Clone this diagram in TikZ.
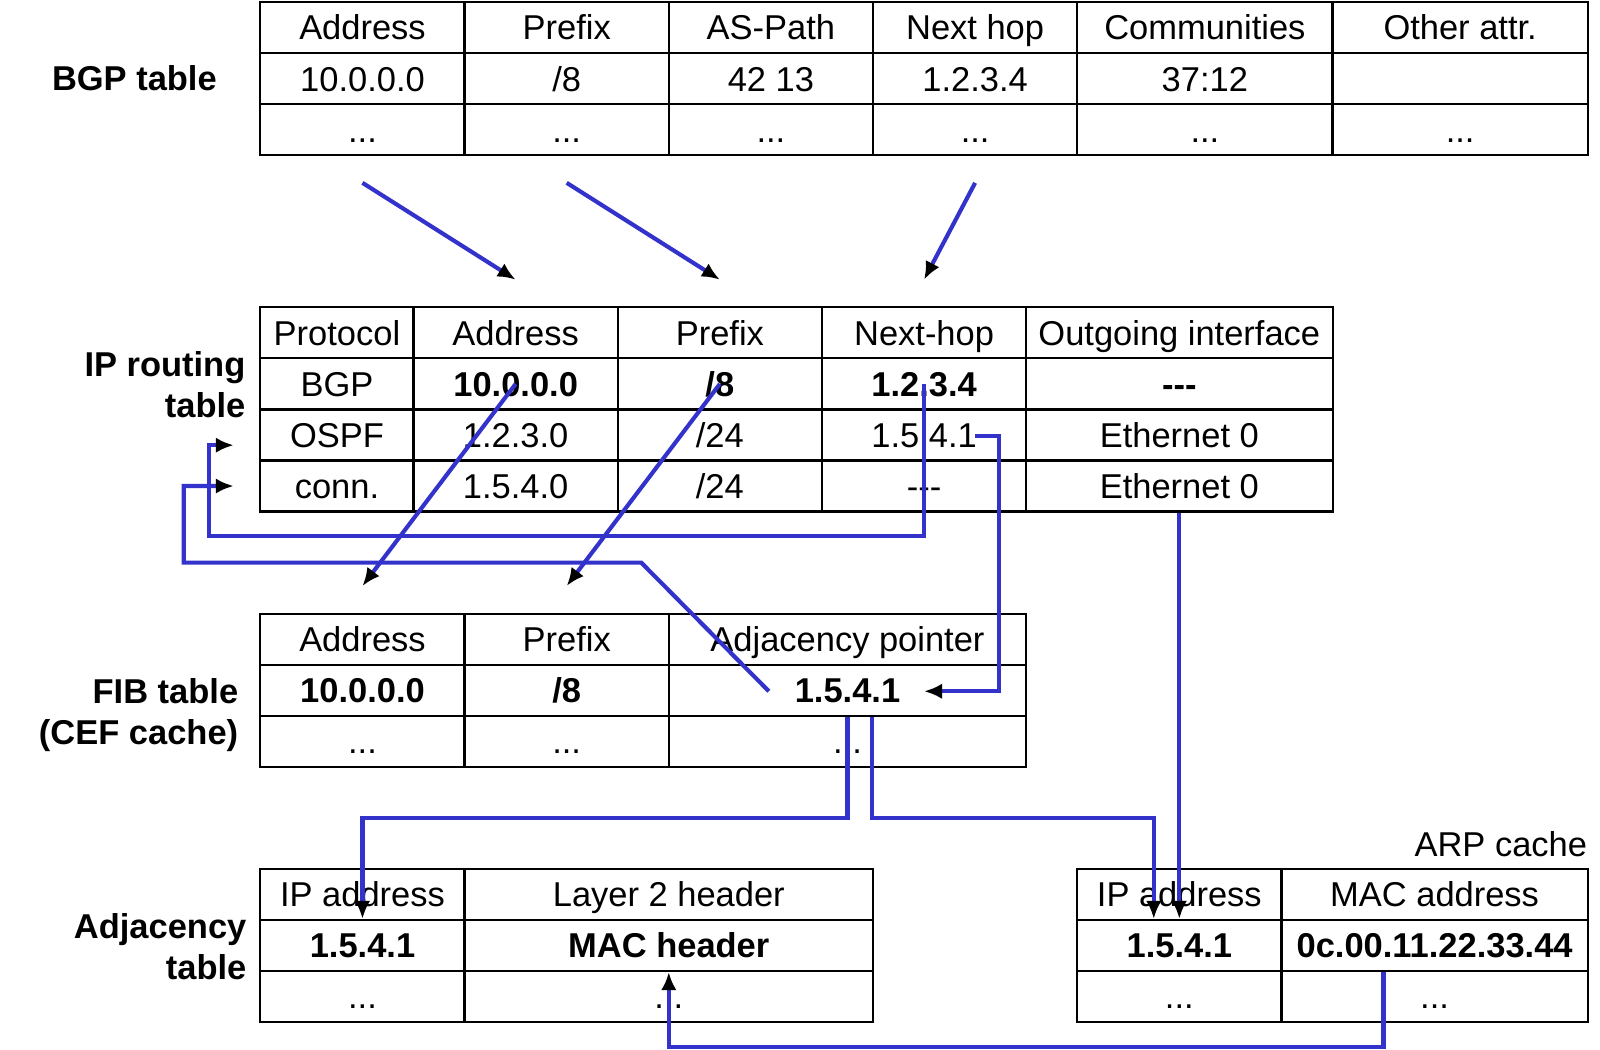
\documentclass[tikz,border=0pt]{standalone}
\usepackage{fontspec}
\setmainfont{Liberation Sans}
\usetikzlibrary{arrows.meta}

\definecolor{linkblue}{RGB}{51,51,204}
\newcommand{\tabfont}{\fontsize{9.6}{11.4}\selectfont}

\begin{document}
\begin{tikzpicture}[x=0.01cm, y=-0.01cm, font=\tabfont,
    cell/.style={draw, line width=0.6pt, minimum width=#1, minimum height=0.5cm, inner sep=0pt, text height=6.9pt, text depth=0pt},
    tlabel/.style={font=\tabfont\bfseries, align=right, inner sep=0pt},
    link/.style={draw=linkblue, line width=1.15pt, -{Latex[color=black, length=5pt, width=4.3pt]}}]
    \useasboundingbox (0,0) rectangle (1567,1028);

    % BGP table
    \node[tlabel, anchor=east] (bgp-lbl) at (213,77) {BGP table};
    \node[cell=2cm] (b-addr0) at (355,27) {Address};
    \node[cell=2cm] (b-pref0) at (555,27) {Prefix};
    \node[cell=2cm] (b-path0) at (755,27) {AS-Path};
    \node[cell=2cm] (b-nh0) at (955,27) {Next hop};
    \node[cell=2.5cm] (b-comm0) at (1180,27) {Communities};
    \node[cell=2.5cm] (b-oth0) at (1430,27) {Other attr.};
    \node[cell=2cm] (b-addr1) at (355,77) {10.0.0.0};
    \node[cell=2cm] (b-pref1) at (555,77) {/8};
    \node[cell=2cm] (b-path1) at (755,77) {42 13};
    \node[cell=2cm] (b-nh1) at (955,77) {1.2.3.4};
    \node[cell=2.5cm] (b-comm1) at (1180,77) {37:12};
    \node[cell=2.5cm] (b-oth1) at (1430,77) {};
    \node[cell=2cm] (b-addr2) at (355,127) {...};
    \node[cell=2cm] (b-pref2) at (555,127) {...};
    \node[cell=2cm] (b-path2) at (755,127) {...};
    \node[cell=2cm] (b-nh2) at (955,127) {...};
    \node[cell=2.5cm] (b-comm2) at (1180,127) {...};
    \node[cell=2.5cm] (b-oth2) at (1430,127) {...};

    % IP routing table
    \node[tlabel, anchor=east] (ip-lbl) at (241,377) {IP routing\\table};
    \node[cell=1.5cm] (r-prot0) at (330,326) {Protocol};
    \node[cell=2cm] (r-addr0) at (505,326) {Address};
    \node[cell=2cm] (r-pref0) at (705,326) {Prefix};
    \node[cell=2cm] (r-nh0) at (905,326) {Next-hop};
    \node[cell=3cm] (r-out0) at (1155,326) {Outgoing interface};
    \node[cell=1.5cm] (r-prot1) at (330,376) {BGP};
    \node[cell=2cm] (r-addr1) at (505,376) {\textbf{10.0.0.0}};
    \node[cell=2cm] (r-pref1) at (705,376) {\textbf{/8}};
    \node[cell=2cm] (r-nh1) at (905,376) {\textbf{1.2.3.4}};
    \node[cell=3cm] (r-out1) at (1155,376) {\textbf{-{}-{}-}};
    \node[cell=1.5cm] (r-prot2) at (330,426) {OSPF};
    \node[cell=2cm] (r-addr2) at (505,426) {1.2.3.0};
    \node[cell=2cm] (r-pref2) at (705,426) {/24};
    \node[cell=2cm] (r-nh2) at (905,426) {1.5.4.1};
    \node[cell=3cm] (r-out2) at (1155,426) {Ethernet 0};
    \node[cell=1.5cm] (r-prot3) at (330,476) {conn.};
    \node[cell=2cm] (r-addr3) at (505,476) {1.5.4.0};
    \node[cell=2cm] (r-pref3) at (705,476) {/24};
    \node[cell=2cm] (r-nh3) at (905,476) {-{}-{}-};
    \node[cell=3cm] (r-out3) at (1155,476) {Ethernet 0};

    % FIB table (CEF cache)
    \node[tlabel, anchor=east] (fib-lbl) at (234,700) {FIB table\\(CEF cache)};
    \node[cell=2cm] (f-addr0) at (355,626) {Address};
    \node[cell=2cm] (f-pref0) at (555,626) {Prefix};
    \node[cell=3.5cm] (f-adj0) at (830,626) {Adjacency pointer};
    \node[cell=2cm] (f-addr1) at (355,676) {\textbf{10.0.0.0}};
    \node[cell=2cm] (f-pref1) at (555,676) {\textbf{/8}};
    \node[cell=3.5cm] (f-adj1) at (830,676) {\textbf{1.5.4.1}};
    \node[cell=2cm] (f-addr2) at (355,726) {...};
    \node[cell=2cm] (f-pref2) at (555,726) {...};
    \node[cell=3.5cm] (f-adj2) at (830,726) {...};

    % Adjacency table
    \node[tlabel, anchor=east] (adj-lbl) at (242,927) {Adjacency\\table};
    \node[cell=2cm] (a-ip0) at (355,876) {IP address};
    \node[cell=4cm] (a-l20) at (655,876) {Layer 2 header};
    \node[cell=2cm] (a-ip1) at (355,926) {\textbf{1.5.4.1}};
    \node[cell=4cm] (a-l21) at (655,926) {\textbf{MAC header}};
    \node[cell=2cm] (a-ip2) at (355,976) {...};
    \node[cell=4cm] (a-l22) at (655,976) {...};

    % ARP cache
    \node[anchor=east, inner sep=0pt, text height=6.9pt, text depth=0pt] (arp-lbl) at (1555,827) {ARP cache};
    \node[cell=2cm] (p-ip0) at (1155,876) {IP address};
    \node[cell=3cm] (p-mac0) at (1405,876) {MAC address};
    \node[cell=2cm] (p-ip1) at (1155,926) {\textbf{1.5.4.1}};
    \node[cell=3cm] (p-mac1) at (1405,926) {\textbf{0c.00.11.22.33.44}};
    \node[cell=2cm] (p-ip2) at (1155,976) {...};
    \node[cell=3cm] (p-mac2) at (1405,976) {...};

    % BGP -> IP routing table
    \draw[link] ([yshift=-0.26cm]b-addr2.south) -- ([yshift=0.26cm]r-addr0.north);
    \draw[link] ([yshift=-0.26cm]b-pref2.south) -- ([yshift=0.26cm]r-pref0.north);
    \draw[link] ([yshift=-0.26cm]b-nh2.south) -- ([yshift=0.26cm]r-nh0.north);

    % IP routing table -> FIB
    \draw[link] (r-addr1.center) -- ([yshift=0.26cm]f-addr0.north);
    \draw[link] (r-pref1.center) -- ([yshift=0.26cm]f-pref0.north);

    % recursive lookup of the next hop
    \coordinate (nh-turn) at (205,525);
    \draw[link] (r-nh1.center) |- (nh-turn) |- ([xshift=-0.25cm,yshift=-0.1cm]r-prot2.west);
    \coordinate (ospf-nh) at (955,427);
    \coordinate (ospf-turn) at (978,677);
    \coordinate (fib-ptr) at (905,677);
    \draw[link] (ospf-nh) -| (ospf-turn) -- (fib-ptr);
    \coordinate (adj-start) at (753,677);
    \coordinate (adj-bend) at (628,551);
    \coordinate (adj-turn) at (180,551);
    \draw[link] (adj-start) -- (adj-bend) -- (adj-turn) |- ([xshift=-0.25cm]r-prot3.west);

    % FIB -> adjacency table and ARP cache
    \draw[link] (f-adj1.south) -- ++(0,99) -| (a-ip1.north);
    \draw[link] ([xshift=0.24cm]f-adj1.south) -- ++(0,99) -| ([xshift=-0.25cm]p-ip1.north);
    \draw[link] (r-out3.south) -- (p-ip1.north);
    \draw[link] ([xshift=-0.5cm]p-mac1.south) -- ++(0,73) -| (a-l21.south);
\end{tikzpicture}
\end{document}
